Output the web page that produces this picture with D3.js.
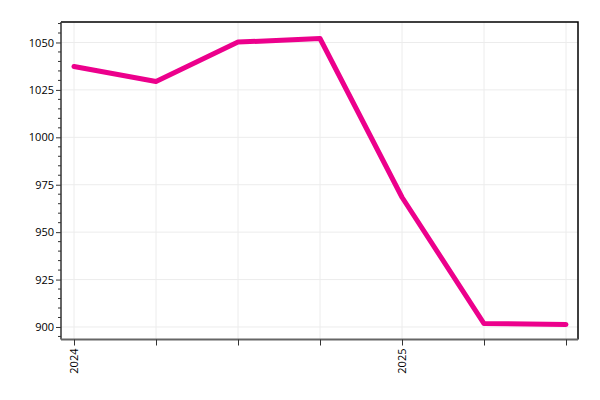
<!DOCTYPE html>
<html><head><meta charset="utf-8">
<script src="https://cdn.jsdelivr.net/npm/d3@7"></script>
<style>body{margin:0;background:#fff}svg{display:block;font-family:"Open Sans",sans-serif}</style>
</head><body><svg id="c" width="600" height="400"></svg>
<script>
const dates = ["2024-01-01","2024-04-01","2024-07-01","2024-10-01","2025-01-01","2025-04-01","2025-07-01"];
const values = [1037.3, 1029.4, 1050.2, 1052.1, 968.4, 901.8, 901.3];
const yTicks = [900, 925, 950, 975, 1000, 1025, 1050];
const xLabels = ["2024", "", "", "", "2025", "", ""];

const svg = d3.select("#c");
const L = 61, R = 578, T = 22, B = 339.5;
const parse = d3.utcParse("%Y-%m-%d");
const xd = dates.map(parse);
const x = d3.scalePoint().domain(d3.range(dates.length)).range([74, 566]);
const y = d3.scaleLinear().domain([893.4, 1060.8]).range([B, T]);

const g = svg.append("g");
// grid
g.selectAll(".gy").data(yTicks).join("line")
  .attr("x1", L).attr("x2", R).attr("y1", d => y(d)).attr("y2", d => y(d))
  .attr("stroke", "#ececec").attr("stroke-width", 1);
g.selectAll(".gx").data(d3.range(dates.length)).join("line")
  .attr("x1", d => x(d)).attr("x2", d => x(d)).attr("y1", T).attr("y2", B)
  .attr("stroke", "#ececec").attr("stroke-width", 1);

// frame top/right
svg.append("path").attr("d", `M${L},${T}H${R}V${B}`).attr("fill", "none").attr("stroke", "#000").attr("stroke-width", 1.5);

// y axis
const ya = svg.append("g").attr("transform", `translate(${L},0)`)
  .call(d3.axisLeft(y).tickValues(yTicks).tickSize(5).tickFormat(d3.format("d")));
ya.select(".domain").attr("stroke", "#333").attr("stroke-width", 1.5).attr("d", `M0,${T}V${B}`);
ya.selectAll(".tick line").attr("stroke", "#333");
ya.selectAll("text").attr("font-size", 11).attr("font-family", "Open Sans").attr("fill", "#000").attr("x", -7);
const minor = d3.range(895, 1061, 5).filter(v => !yTicks.includes(v));
ya.selectAll(".mt").data(minor).join("line")
  .attr("x1", -3).attr("x2", 0).attr("y1", d => y(d)).attr("y2", d => y(d))
  .attr("stroke", "#333");

// x axis
const xa = svg.append("g").attr("transform", `translate(0,${B})`)
  .call(d3.axisBottom(x).tickSize(6).tickFormat(i => xLabels[i]));
xa.select(".domain").attr("stroke", "#666").attr("stroke-width", 2).attr("d", `M${L},0H${R}`);
xa.selectAll(".tick line").attr("stroke", "#333");
xa.selectAll("text").attr("font-size", 11).attr("font-family", "Open Sans").attr("fill", "#000")
  .attr("transform", "rotate(-90)").attr("text-anchor", "end").attr("dy", "0.35em").attr("x", -9).attr("y", 0);

// line
const line = d3.line().x((d, i) => x(i)).y(d => y(d));
svg.append("path").datum(values).attr("d", line)
  .attr("fill", "none").attr("stroke", "#ec008c").attr("stroke-width", 5)
  .attr("stroke-linejoin", "round").attr("stroke-linecap", "round");
</script></body></html>
